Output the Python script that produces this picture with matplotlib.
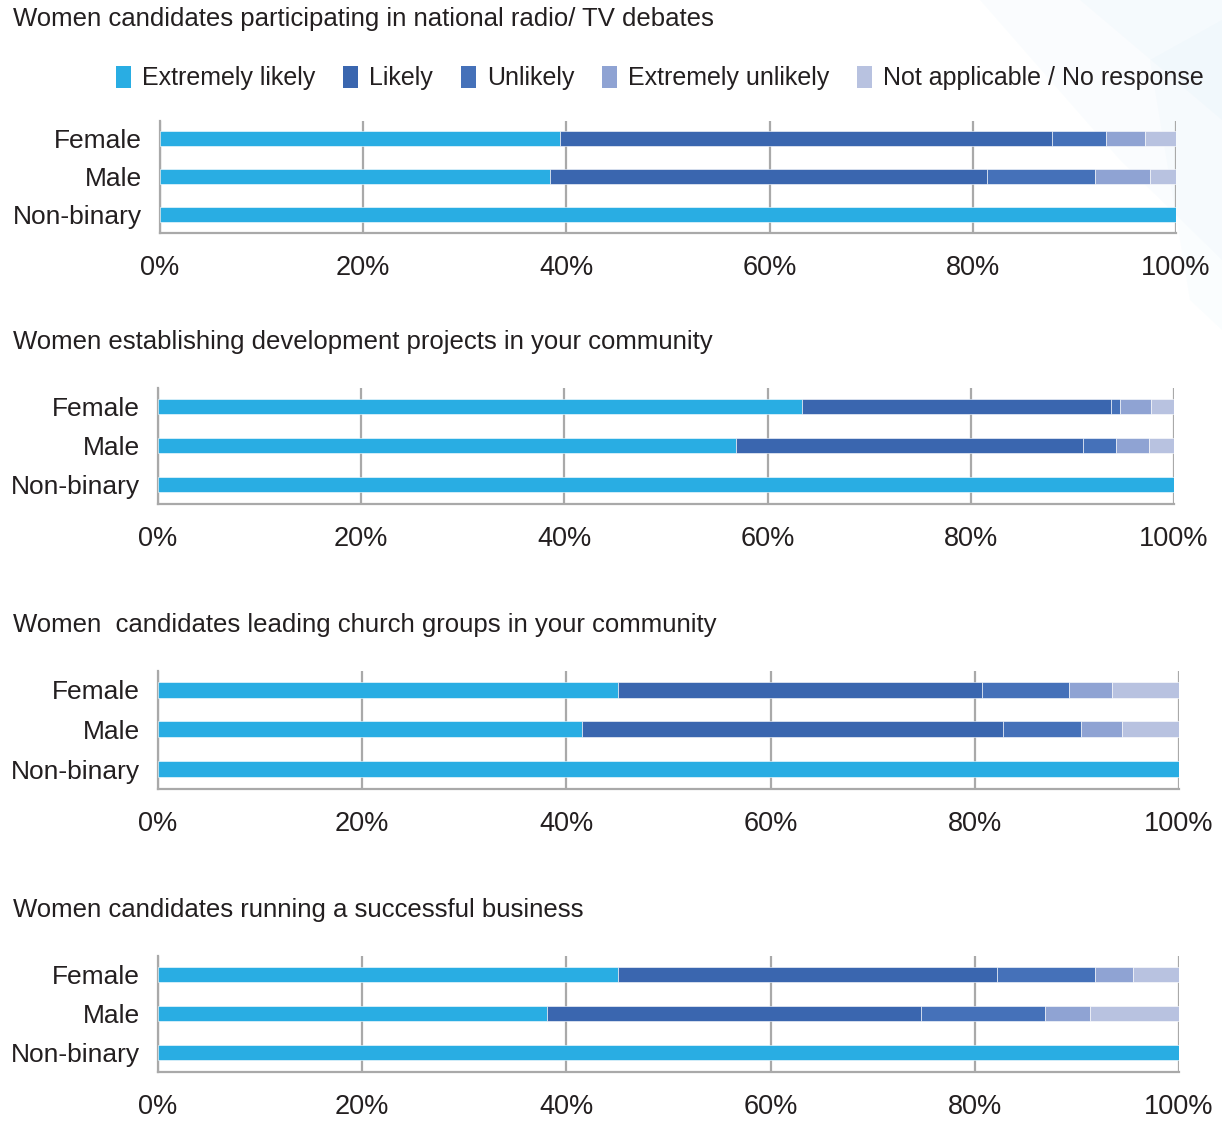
import matplotlib
matplotlib.use("Agg")
import matplotlib.pyplot as plt
import matplotlib.transforms as mtransforms
from matplotlib.patches import Patch, Polygon
import numpy as np

plt.rcParams['font.family'] = ['Liberation Sans', 'DejaVu Sans']

W, H = 1222, 1121

groups = ["Female", "Male", "Non-binary"]
responses = ["Extremely likely", "Likely", "Unlikely", "Extremely unlikely",
             "Not applicable / No response"]
colors = ["#29ADE3", "#3A66AF", "#4571B9", "#8FA3D3", "#B8C2E0"]

titles = [
    "Women candidates participating in national radio/ TV debates",
    "Women establishing development projects in your community",
    "Women  candidates leading church groups in your community",
    "Women candidates running a successful business",
]

# Percentages per group, in response order
radio_tv = {
    "Female":     [39.4, 48.4, 5.3, 3.8, 3.1],
    "Male":       [38.4, 43.0, 10.6, 5.4, 2.6],
    "Non-binary": [100.0, 0.0, 0.0, 0.0, 0.0],
}
development = {
    "Female":     [63.4, 30.4, 0.9, 3.0, 2.3],
    "Male":       [56.9, 34.1, 3.3, 3.2, 2.5],
    "Non-binary": [100.0, 0.0, 0.0, 0.0, 0.0],
}
church = {
    "Female":     [45.1, 35.6, 8.5, 4.2, 6.6],
    "Male":       [41.5, 41.3, 7.6, 4.0, 5.6],
    "Non-binary": [100.0, 0.0, 0.0, 0.0, 0.0],
}
business = {
    "Female":     [45.1, 37.1, 9.6, 3.7, 4.5],
    "Male":       [38.1, 36.6, 12.2, 4.4, 8.7],
    "Non-binary": [100.0, 0.0, 0.0, 0.0, 0.0],
}
panels = [radio_tv, development, church, business]

xticks = [0, 20, 40, 60, 80, 100]
xtick_labels = ["0%", "20%", "40%", "60%", "80%", "100%"]

# axes boxes in pixels: left, right, top, bottom
boxes = [
    (160, 1176, 121, 233),
    (158, 1174, 388, 504),
    (158, 1179, 671, 789),
    (158, 1179, 956, 1072),
]
title_y = [19, 342, 625, 910]

fig = plt.figure(figsize=(W / 100, H / 100), dpi=100)
fig.patch.set_facecolor("white")

# faint decorative wash in the upper right corner
bg = fig.add_axes([0, 0, 1, 1], zorder=-10)
bg.set_xlim(0, W)
bg.set_ylim(H, 0)
bg.axis("off")
for pts, a in [
    ([(980, 0), (1222, 0), (1222, 260), (1120, 160)], 0.035),
    ([(1080, 0), (1222, 0), (1222, 120)], 0.035),
    ([(1150, 60), (1222, 20), (1222, 330), (1190, 300)], 0.03),
]:
    bg.add_patch(Polygon(pts, closed=True, color="#7CC4EC", alpha=a, lw=0))

grid_col = "#A9A9A9"
shift = mtransforms.ScaledTranslation(3 / 100, 0, fig.dpi_scale_trans)

for i, (data, (l, r, t, b)) in enumerate(zip(panels, boxes)):
    ax = fig.add_axes([l / W, 1 - b / H, (r - l) / W, (b - t) / H])
    ax.set_facecolor("none")
    y = np.arange(len(groups))
    vals = np.array([data[g] for g in groups])
    left = np.zeros(len(groups))
    for k, (name, c) in enumerate(zip(responses, colors)):
        ax.barh(y, vals[:, k], left=left, height=0.4, color=c,
                edgecolor="white", linewidth=0.4, zorder=3)
        left += vals[:, k]
    ax.set_xlim(0, 100)
    ax.set_ylim(2.5, -0.47)
    ax.set_yticks(y)
    ax.set_yticklabels(groups, fontsize=19, color="#231F20")
    ax.set_xticks(xticks)
    ax.set_xticklabels(xtick_labels, fontsize=19.5, color="#231F20")
    for lab in ax.get_xticklabels():
        lab.set_transform(lab.get_transform() + shift)
    ax.tick_params(axis="both", length=0)
    ax.tick_params(axis="y", pad=13)
    ax.tick_params(axis="x", pad=16)
    ax.xaxis.grid(True, color=grid_col, linewidth=1.6, zorder=1)
    for s in ["top", "right"]:
        ax.spines[s].set_visible(False)
    for s in ["left", "bottom"]:
        ax.spines[s].set_color(grid_col)
        ax.spines[s].set_linewidth(1.6)
    fig.text(13 / W, 1 - title_y[i] / H, titles[i], fontsize=18.5,
             color="#231F20", va="center", ha="left")

handles = [Patch(facecolor=c, edgecolor="none") for c in colors]
fig.legend(handles, responses, loc="center", ncol=5,
           bbox_to_anchor=(660 / W, 1 - 78 / H), frameon=False,
           fontsize=18, handlelength=0.6, handleheight=1.0,
           handletextpad=0.45, columnspacing=1.1, labelcolor="#231F20")

fig.savefig("out.png", dpi=100, facecolor="white")
